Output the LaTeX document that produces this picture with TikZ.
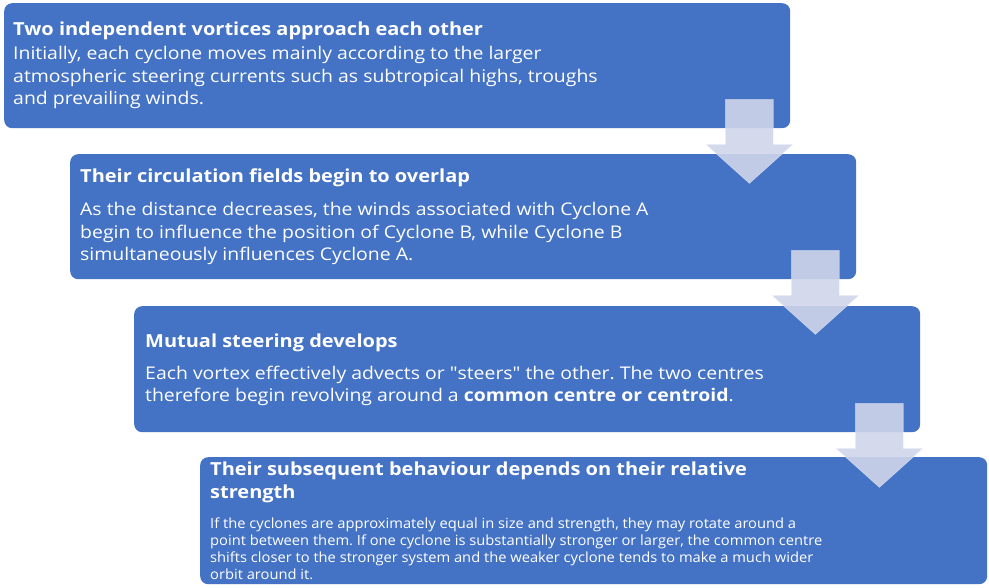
\documentclass[tikz,border=0pt]{standalone}
\usepackage{fontspec}
\setmainfont[FakeStretch=1.11]{Open Sans}
\newfontfamily\narrowfont[FakeStretch=1.05]{Open Sans}
\newfontfamily\quotefont[FakeStretch=1.11,Ligatures=TeXOff]{Open Sans}
\newcommand{\sq}{{\quotefont\symbol{34}}}
\usetikzlibrary{calc}
\frenchspacing
\definecolor{boxblue}{HTML}{4472C4}
\definecolor{arrowfill}{RGB}{207,213,234}
\tikzset{
  stagebox/.style={fill=boxblue, draw=none, rounded corners=8pt, inner sep=0pt,
    minimum width=786pt, minimum height=125pt, anchor=north west},
  ttl/.style={text=white, inner sep=0pt, anchor=base west, align=left,
    font=\fontsize{18}{23}\selectfont\bfseries},
  bdy/.style={text=white, inner sep=0pt, anchor=base west, align=left,
    font=\fontsize{17.5}{22.5}\selectfont},
  smallbdy/.style={text=white, inner sep=0pt, anchor=base west, align=left,
    font=\narrowfont\fontsize{14}{17}\selectfont},
  blockarrow/.style={fill=arrowfill, fill opacity=0.9, draw=white, draw opacity=0.4, line width=0.6pt}
}
\newcommand{\stagearrow}[1]{%
  \path[blockarrow] ($(#1.south east)+(-65,-29)$) -- ($(#1.south east)+(-17,-29)$)
    -- ($(#1.south east)+(-17,16)$) -- ($(#1.south east)+(2.5,16)$)
    -- ($(#1.south east)+(-41,55)$) -- ($(#1.south east)+(-84.5,16)$)
    -- ($(#1.south east)+(-65,16)$) -- cycle;}
\begin{document}
\begin{tikzpicture}[x=1pt,y=-1pt]
\useasboundingbox (0,0) rectangle (989,588);
\node[stagebox] (b1) at (4,3) {};
\node[stagebox] (b2) at (70,154) {};
\node[stagebox, minimum height=126pt] (b3) at (134,306) {};
\node[stagebox, minimum width=787pt, minimum height=127pt] (b4) at (200,457) {};

\node[ttl] (t1) at ($(b1.north west)+(9,33)$) {Two independent vortices approach each other};
\node[bdy] (d1) at ($(b1.north west)+(9,102)$) {Initially, each cyclone moves mainly according to the larger\\atmospheric steering currents such as subtropical highs, troughs\\and prevailing winds.};

\node[ttl] (t2) at ($(b2.north west)+(10,29)$) {Their circulation fields begin to overlap};
\node[bdy] (d2) at ($(b2.north west)+(10,107)$) {As the distance decreases, the winds associated with Cyclone A\\begin to influence the position of Cyclone B, while Cyclone B\\simultaneously influences Cyclone A.};

\node[ttl] (t3) at ($(b3.north west)+(11,42)$) {Mutual steering develops};
\node[bdy] (d3) at ($(b3.north west)+(11,96)$) {Each vortex effectively advects or \sq steers\sq{} the other. The two centres\\therefore begin revolving around a \textbf{common centre or centroid}.};

\node[ttl] (t4) at ($(b4.north west)+(10,41)$) {Their subsequent behaviour depends on their relative\\strength};
\node[smallbdy] (d4) at ($(b4.north west)+(10,122)$) {If the cyclones are approximately equal in size and strength, they may rotate around a\\point between them. If one cyclone is substantially stronger or larger, the common centre\\shifts closer to the stronger system and the weaker cyclone tends to make a much wider\\orbit around it.};

\stagearrow{b1}
\stagearrow{b2}
\stagearrow{b3}
\end{tikzpicture}
\end{document}
